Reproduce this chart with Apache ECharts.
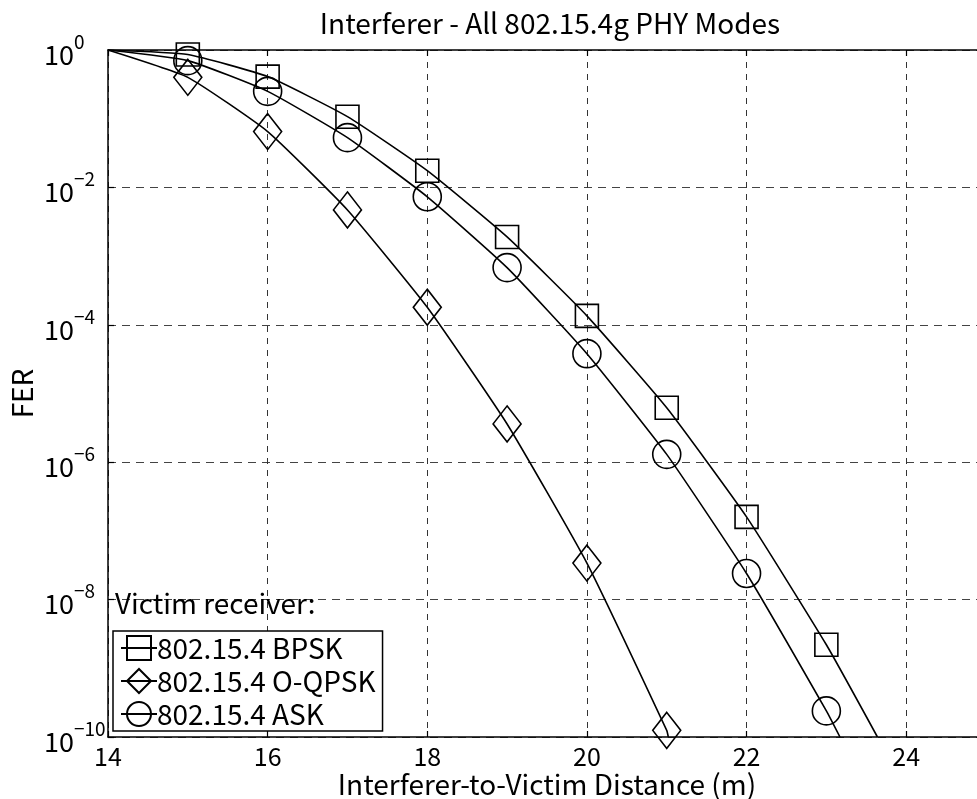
<!DOCTYPE html>
<html>
<head>
<meta charset="utf-8">
<script src="https://cdn.jsdelivr.net/npm/echarts@6/dist/echarts.min.js"></script>
<style>
html,body{margin:0;padding:0;background:#fff;}
#chart{width:977px;height:799px;}
</style>
</head>
<body>
<div id="chart"></div>
<script>
// ---- data ----
var titleText = 'Interferer - All 802.15.4g PHY Modes';
var xName = 'Interferer-to-Victim Distance (m)';
var yName = 'FER';
var legendTitle = 'Victim receiver:';
var seriesNames = ['802.15.4 BPSK', '802.15.4 O-QPSK', '802.15.4 ASK'];

var lineStart = [14, 1];

var bpskX = [15, 16, 17, 18, 19, 20, 21, 22, 23];
var bpskY = [0.86, 0.41, 0.107, 0.0175, 1.9e-3, 1.35e-4, 6.2e-6, 1.6e-7, 2.2e-9];
var bpskEnd = [23.64, 1e-10];

var oqpskX = [15, 16, 17, 18, 19, 20, 21];
var oqpskY = [0.40, 0.065, 4.7e-3, 1.8e-4, 3.6e-6, 3.4e-8, 1.25e-10];
var oqpskEnd = [21.02, 1e-10];

var askX = [15, 16, 17, 18, 19, 20, 21, 22, 23];
var askY = [0.70, 0.25, 0.053, 7.3e-3, 6.8e-4, 3.8e-5, 1.3e-6, 2.4e-8, 2.4e-10];
var askEnd = [23.17, 1e-10];

var FONT = '"Noto Sans CJK JP", "Liberation Sans", sans-serif';

function buildData(xs, ys, end) {
  var d = [{ value: lineStart.slice(), symbol: 'none' }];
  for (var i = 0; i < xs.length; i++) d.push({ value: [xs[i], ys[i]] });
  d.push({ value: end.slice(), symbol: 'none' });
  return d;
}

function mkSeries(name, data, symbol, size) {
  return {
    name: name,
    type: 'line',
    data: data,
    smooth: 0.15,
    symbol: symbol,
    symbolSize: size,
    showAllSymbol: true,
    clip: true,
    lineStyle: { color: '#000', width: 1.6 },
    itemStyle: { color: 'rgba(255,255,255,0)', borderColor: '#000', borderWidth: 1.6 },
    emphasis: { disabled: true },
    z: 3
  };
}

var chart = echarts.init(document.getElementById('chart'), null, { renderer: 'canvas' });

var option = {
  animation: false,
  backgroundColor: '#fff',
  textStyle: { fontFamily: FONT, color: '#000' },
  title: {
    text: titleText,
    left: 545, top: 4, textAlign: 'center',
    textStyle: { fontFamily: FONT, fontSize: 28, fontWeight: 'normal', color: '#000' }
  },
  grid: { left: 108, top: 50, width: 878, height: 687, containLabel: false, outerBoundsMode: 'none' },
  legend: {
    orient: 'vertical',
    left: 113, top: 631,
    padding: [3, 7, 3, 7],
    itemGap: 5,
    itemWidth: 36, itemHeight: 30,
    borderColor: '#000', borderWidth: 1.5,
    backgroundColor: '#fff',
    textStyle: { fontFamily: FONT, fontSize: 28, color: '#000', padding: [0, 0, 0, -5] },
    data: seriesNames
  },
  xAxis: [{
    type: 'value', min: 14, max: 25, interval: 2,
    name: xName, nameLocation: 'middle', nameGap: 33, nameMoveOverlap: false,
    nameTextStyle: { fontFamily: FONT, fontSize: 28, color: '#000' },
    axisLine: { show: true, onZero: false, lineStyle: { color: '#000', width: 1.5 } },
    axisTick: { show: true, inside: true, length: 6, lineStyle: { color: '#000', width: 1.2 } },
    axisLabel: { fontFamily: FONT, fontSize: 25, color: '#000', margin: 7, showMaxLabel: false,
      formatter: function (v) { return (v % 2 === 0) ? String(v) : ''; } },
    splitLine: { show: true, lineStyle: { color: '#333', type: [6, 6], width: 1 } }
  }, {
    type: 'value', min: 14, max: 25, interval: 2, position: 'top',
    axisLine: { show: true, onZero: false, lineStyle: { color: '#000', width: 1.5 } },
    axisTick: { show: true, inside: true, length: 6, lineStyle: { color: '#000', width: 1.2 } },
    axisLabel: { show: false }, splitLine: { show: false }
  }],
  yAxis: [{
    type: 'log', logBase: 10, min: 1e-10, max: 1, interval: 2,
    name: yName, nameLocation: 'middle', nameGap: 72, nameRotate: 90, nameMoveOverlap: false,
    nameTextStyle: { fontFamily: FONT, fontSize: 28, color: '#000' },
    axisLine: { show: true, onZero: false, lineStyle: { color: '#000', width: 1.5 } },
    axisTick: { show: true, inside: true, length: 6, lineStyle: { color: '#000', width: 1.2 } },
    axisLabel: {
      align: 'left', margin: 64, color: '#000',
      formatter: function (v) {
        var e = Math.round(Math.log10(v));
        return '{b|10}{s|' + (e < 0 ? '\u2212' : '') + Math.abs(e) + '}';
      },
      rich: {
        b: { fontFamily: FONT, fontSize: 27, color: '#000', verticalAlign: 'bottom', lineHeight: 36 },
        s: { fontFamily: FONT, fontSize: 19, color: '#000', verticalAlign: 'top', lineHeight: 36 }
      }
    },
    splitLine: { show: true, lineStyle: { color: '#444', type: [8, 6], width: 1 } }
  }, {
    type: 'log', logBase: 10, min: 1e-10, max: 1, interval: 2, position: 'right',
    axisLine: { show: true, onZero: false, lineStyle: { color: '#000', width: 1.5 } },
    axisTick: { show: false }, axisLabel: { show: false }, splitLine: { show: false }
  }],
  graphic: [{
    type: 'text', left: 115, top: 589, z: 5,
    style: { text: legendTitle, fontFamily: FONT, fontSize: 28, fill: '#000' }
  }],
  series: [
    mkSeries(seriesNames[0], buildData(bpskX, bpskY, bpskEnd), 'rect', 23),
    mkSeries(seriesNames[1], buildData(oqpskX, oqpskY, oqpskEnd), 'diamond', [28, 36]),
    mkSeries(seriesNames[2], buildData(askX, askY, askEnd), 'circle', 28)
  ]
};
chart.setOption(option);
</script>
</body>
</html>
